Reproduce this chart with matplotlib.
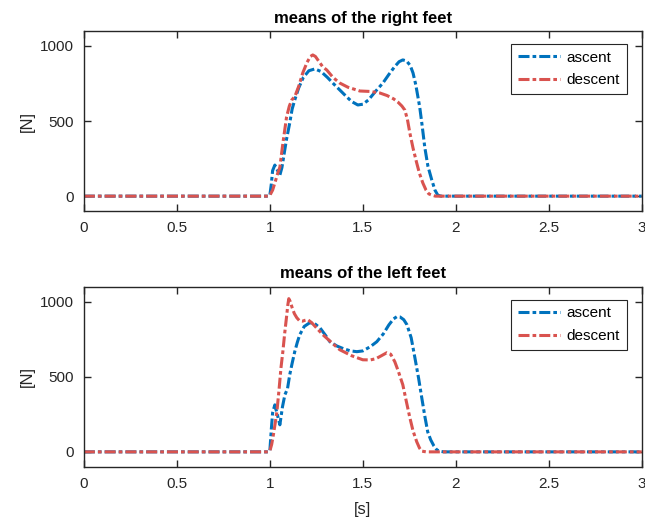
import matplotlib
matplotlib.use('Agg')
import matplotlib.pyplot as plt
import numpy as np

plt.rcParams['font.family'] = ['Liberation Sans', 'DejaVu Sans']

# right feet (top panel)
right_asc_t = [0, 0.99, 1.0, 1.008, 1.015, 1.027, 1.04, 1.054, 1.065, 1.078, 1.09, 1.107, 1.12,
               1.134, 1.155, 1.18, 1.21, 1.242, 1.275, 1.31, 1.345, 1.376, 1.41, 1.44, 1.473,
               1.5, 1.53, 1.57, 1.608, 1.64, 1.67, 1.695, 1.715, 1.735, 1.755, 1.77, 1.785,
               1.806, 1.82, 1.833, 1.85, 1.871, 1.888, 1.903, 1.92, 3.0]
right_asc_v = [0, 0, 5, 80, 170, 207, 175, 140, 190, 290, 380, 487, 580,
               640, 720, 790, 835, 847, 830, 790, 745, 707, 665, 630, 607,
               612, 640, 700, 753, 810, 860, 895, 907, 900, 870, 820, 740,
               593, 460, 327, 200, 107, 40, 7, 0, 0]
right_desc_t = [0, 0.99, 1.0, 1.015, 1.03, 1.042, 1.054, 1.07, 1.09, 1.105, 1.118, 1.135, 1.155,
                1.177, 1.2, 1.218, 1.231, 1.245, 1.265, 1.285, 1.306, 1.34, 1.376, 1.42, 1.484,
                1.54, 1.591, 1.63, 1.665, 1.688, 1.71, 1.726, 1.74, 1.753, 1.77, 1.79, 1.805,
                1.823, 1.84, 1.855, 1.871, 1.89, 3.0]
right_desc_v = [0, 0, 5, 40, 100, 150, 193, 350, 527, 600, 640, 665, 730,
                820, 890, 930, 940, 930, 895, 860, 840, 790, 753, 725, 700,
                697, 687, 670, 648, 627, 600, 573, 510, 420, 320, 220, 150,
                87, 40, 15, 7, 0, 0]

# left feet (bottom panel)
left_asc_t = [0, 0.99, 1.0, 1.008, 1.015, 1.027, 1.04, 1.054, 1.068, 1.081, 1.095, 1.107, 1.12,
              1.134, 1.148, 1.161, 1.185, 1.215, 1.245, 1.27, 1.3, 1.323, 1.36, 1.4, 1.435,
              1.468, 1.5, 1.54, 1.575, 1.61, 1.64, 1.665, 1.683, 1.7, 1.72, 1.737, 1.76,
              1.78, 1.8, 1.817, 1.833, 1.849, 1.865, 1.882, 1.898, 1.915, 1.935, 3.0]
left_asc_v = [0, 0, 5, 150, 260, 313, 250, 180, 300, 380, 420, 513, 590,
              667, 730, 780, 835, 860, 850, 825, 775, 733, 705, 685, 672,
              667, 672, 700, 733, 785, 845, 885, 900, 898, 880, 847, 760,
              627, 490, 360, 240, 133, 80, 40, 13, 4, 0, 0]
left_desc_t = [0, 0.99, 1.0, 1.01, 1.02, 1.03, 1.038, 1.05, 1.06, 1.07, 1.08, 1.09, 1.097,
               1.102, 1.11, 1.12, 1.132, 1.145, 1.16, 1.175, 1.19, 1.204, 1.225, 1.255, 1.285,
               1.33, 1.376, 1.44, 1.5, 1.54, 1.57, 1.6, 1.629, 1.65, 1.672, 1.69, 1.715,
               1.735, 1.753, 1.77, 1.79, 1.805, 1.817, 1.84, 3.0]
left_desc_v = [0, 0, 5, 50, 120, 200, 267, 420, 560, 667, 790, 900, 980,
               1020, 1000, 960, 920, 893, 872, 870, 876, 880, 860, 820, 780,
               730, 680, 640, 613, 612, 620, 640, 660, 650, 600, 540, 447,
               330, 227, 140, 67, 25, 5, 0, 0]

panels = [
    ('means of the right feet', right_asc_t, right_asc_v, right_desc_t, right_desc_v),
    ('means of the left feet', left_asc_t, left_asc_v, left_desc_t, left_desc_v),
]

xticks = [0, 0.5, 1, 1.5, 2, 2.5, 3]
xticklabels = ['0', '0.5', '1', '1.5', '2', '2.5', '3']
yticks = [0, 500, 1000]

BLUE = '#0072BD'
RED = '#D9534F'
DASH = (0, (3.6, 1.0, 1.2, 1.0))

fig = plt.figure(figsize=(6.45, 5.24), dpi=100)
positions = [[0.130, 0.597, 0.865, 0.344], [0.130, 0.109, 0.865, 0.344]]

for i, (title, at, av, dt, dv) in enumerate(panels):
    ax = fig.add_axes(positions[i])
    ax.plot(at, av, color=BLUE, lw=2.2, ls=DASH, label='ascent')
    ax.plot(dt, dv, color=RED, lw=2.2, ls=DASH, label='descent')
    ax.set_xlim(0, 3)
    ax.set_ylim(-100, 1100)
    ax.set_xticks(xticks)
    ax.set_xticklabels(xticklabels)
    ax.set_yticks(yticks)
    ax.tick_params(direction='in', length=5, width=1, labelsize=11, colors='#262626',
                   top=True, right=True, pad=7)
    for sp in ax.spines.values():
        sp.set_color('#262626')
        sp.set_linewidth(1.0)
    ax.set_title(title, fontsize=12, fontweight='bold', pad=6)
    ax.set_ylabel('[N]', fontsize=12, color='#262626', labelpad=4)
    leg = ax.legend(loc='upper right', bbox_to_anchor=(0.973, 0.928), borderaxespad=0,
                    fontsize=11, fancybox=False, framealpha=1, edgecolor='#262626',
                    handlelength=2.8, borderpad=0.45, labelspacing=0.55,
                    handletextpad=0.4)
    leg.get_frame().set_linewidth(0.8)
    if i == 1:
        ax.set_xlabel('[s]', fontsize=12, color='#262626', labelpad=8)

fig.savefig('out.png', dpi=100)
